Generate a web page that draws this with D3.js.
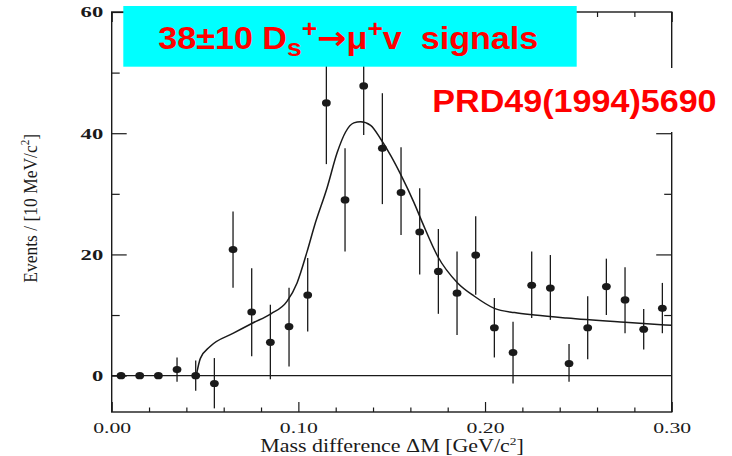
<!DOCTYPE html>
<html>
<head>
<meta charset="utf-8">
<script src="https://cdn.jsdelivr.net/npm/d3@7"></script>
<style>
  html, body { margin: 0; padding: 0; background: #fff; }
  svg { display: block; }
</style>
</head>
<body>
<svg id="chart" width="732" height="456"></svg>
<script>
// ---- data ----
const massBins = [0.005, 0.015, 0.025, 0.035, 0.045, 0.055, 0.065, 0.075, 0.085, 0.095,
                  0.105, 0.115, 0.125, 0.135, 0.145, 0.155, 0.165, 0.175, 0.185, 0.195,
                  0.205, 0.215, 0.225, 0.235, 0.245, 0.255, 0.265, 0.275, 0.285, 0.295];
const counts   = [0, 0, 0, 1.0, 0, -1.3, 20.8, 10.5, 5.5, 8.1,
                  13.3, 45.0, 29.0, 47.8, 37.5, 30.2, 23.7, 17.2, 13.6, 19.9,
                  7.9, 3.8, 14.9, 14.45, 2.0, 7.9, 14.7, 12.5, 7.65, 11.1];
const errLow   = [0, 0, 0, -1.0, -2.5, -5.4, 14.5, 3.2, -0.6, 1.5,
                  7.3, 34.9, 20.5, 39.7, 28.3, 23.2, 16.7, 10.2, 6.7, 13.35,
                  3.0, -1.3, 9.5, 9.2, -1.0, 2.7, 10.0, 7.0, 4.3, 7.0];
const errHigh  = [0, 0, 0, 3.0, 2.5, 2.9, 27.1, 17.7, 11.7, 14.5,
                  19.4, 55.1, 37.5, 55.9, 46.6, 37.7, 30.9, 24.2, 20.5, 26.3,
                  12.8, 8.9, 20.5, 19.9, 5.2, 13.1, 19.3, 17.9, 11.0, 15.3];

const fitX = [0.0453, 0.0475, 0.0527, 0.0652, 0.0753, 0.0853, 0.0939, 0.0993, 0.1047, 0.1086,
              0.1154, 0.1208, 0.1253, 0.1297, 0.1333, 0.1387, 0.1441, 0.1495, 0.1548, 0.1620,
              0.1665, 0.1746, 0.1853, 0.1943, 0.2050, 0.2158, 0.2265, 0.2437, 0.2750, 0.3000];
const fitY = [0, 2.85, 4.8, 7.0, 8.65, 10.2, 12.25, 15.3, 20.5, 24.7,
              31.0, 36.8, 40.2, 41.7, 41.9, 41.3, 39.05, 36.3, 33.2, 28.5,
              25.2, 19.7, 15.3, 13.1, 11.1, 10.4, 10.0, 9.5, 8.8, 8.3];

const xMajorTicks = [0, 0.10, 0.20, 0.30];
const xMinorTicks = [0.02, 0.04, 0.06, 0.08, 0.12, 0.14, 0.16, 0.18, 0.22, 0.24, 0.26, 0.28];
const yMajorTicks = [0, 20, 40, 60];
const yMinorTicks = [10, 30, 50];

const xTitle = "Mass difference \u0394M [GeV/c";
const yTitle = "Events / [10 MeV/c";
const boxTitleParts = ["38\u00b110 D", "s", "+", "\u2192", "\u03bc", "+", "v\u00a0\u00a0signals"];
const refText = "PRD49(1994)5690";

// ---- layout ----
const svg = d3.select("#chart");
const L = 111.7, R = 671.7, T = 12, B = 412;
const x = d3.scaleLinear().domain([0, 0.30]).range([L, R]);
const y = d3.scaleLinear().domain([-6, 60]).range([B, T]);
const ink = "#1a1a1a";

function styleAxis(g) {
  g.select(".domain").remove();
  g.selectAll(".tick line").attr("stroke", ink).attr("stroke-width", 1.2);
}

// bottom axis
svg.append("g").attr("transform", `translate(0,${B})`)
  .call(d3.axisBottom(x).tickValues(xMinorTicks).tickSize(-4.5).tickFormat(""))
  .call(styleAxis);
const xb = svg.append("g").attr("transform", `translate(0,${B})`)
  .call(d3.axisBottom(x).tickValues(xMajorTicks).tickSize(-10).tickPadding(10).tickFormat(d3.format(".2f")))
  .call(styleAxis);
xb.selectAll(".tick text")
  .attr("font-family", "'Liberation Serif', 'Times New Roman', serif")
  .attr("font-size", 15).attr("fill", ink)
  .attr("textLength", 38).attr("lengthAdjust", "spacingAndGlyphs");

// top axis
svg.append("g").attr("transform", `translate(0,${T})`)
  .call(d3.axisTop(x).tickValues(xMinorTicks).tickSize(-5).tickFormat(""))
  .call(styleAxis);
svg.append("g").attr("transform", `translate(0,${T})`)
  .call(d3.axisTop(x).tickValues(xMajorTicks).tickSize(-10).tickFormat(""))
  .call(styleAxis);

// left axis
svg.append("g").attr("transform", `translate(${L},0)`)
  .call(d3.axisLeft(y).tickValues(yMinorTicks).tickSize(-8).tickFormat(""))
  .call(styleAxis);
const yl = svg.append("g").attr("transform", `translate(${L},0)`)
  .call(d3.axisLeft(y).tickValues(yMajorTicks).tickSize(-15).tickPadding(8.5).tickFormat(d3.format("d")))
  .call(styleAxis);
yl.selectAll(".tick text")
  .attr("font-family", "'Liberation Serif', 'Times New Roman', serif")
  .attr("font-weight", "bold")
  .attr("font-size", 15).attr("fill", ink)
  .each(function(d) {
    const n = String(d).length;
    d3.select(this).attr("textLength", 11.3 * n).attr("lengthAdjust", "spacingAndGlyphs");
  });

// right axis
svg.append("g").attr("transform", `translate(${R},0)`)
  .call(d3.axisRight(y).tickValues(yMinorTicks).tickSize(-7.5).tickFormat(""))
  .call(styleAxis);
svg.append("g").attr("transform", `translate(${R},0)`)
  .call(d3.axisRight(y).tickValues(yMajorTicks.filter(v => v > 0 && v < 60)).tickSize(-15.5).tickFormat(""))
  .call(styleAxis);

// frame
svg.append("rect")
  .attr("x", L).attr("y", T).attr("width", R - L).attr("height", B - T)
  .attr("fill", "none").attr("stroke", ink).attr("stroke-width", 1.4);

// zero line
svg.append("line")
  .attr("x1", L).attr("x2", R).attr("y1", y(0)).attr("y2", y(0))
  .attr("stroke", ink).attr("stroke-width", 1.2);

// fit curve
const fitData = fitX.map((v, i) => [v, fitY[i]]);
svg.append("path")
  .datum(fitData)
  .attr("fill", "none").attr("stroke", ink).attr("stroke-width", 1.5)
  .attr("d", d3.line().x(d => x(d[0])).y(d => y(d[1])).curve(d3.curveMonotoneX));

// data points
const pts = massBins.map((m, i) => ({ m, v: counts[i], lo: errLow[i], hi: errHigh[i] }));
svg.append("g").selectAll("line")
  .data(pts.filter(d => d.hi !== d.lo))
  .join("line")
  .attr("x1", d => x(d.m)).attr("x2", d => x(d.m))
  .attr("y1", d => y(d.lo)).attr("y2", d => y(d.hi))
  .attr("stroke", ink).attr("stroke-width", 1.3);
svg.append("g").selectAll("ellipse")
  .data(pts)
  .join("ellipse")
  .attr("cx", d => x(d.m)).attr("cy", d => y(d.v))
  .attr("rx", 4.4).attr("ry", 3.6)
  .attr("fill", ink);

// axis titles
const xt = svg.append("text")
  .attr("transform", "translate(392,452) scale(1.22,1)")
  .attr("text-anchor", "middle")
  .attr("font-family", "'Liberation Serif', 'Times New Roman', serif")
  .attr("font-size", 18).attr("fill", ink);
xt.append("tspan").text(xTitle);
xt.append("tspan").attr("font-size", 11).attr("dy", -7).text("2");
xt.append("tspan").attr("dy", 7).text("]");

const yt = svg.append("text")
  .attr("transform", "translate(36.7,208.3) scale(1.1,1) rotate(-90)")
  .attr("text-anchor", "middle")
  .attr("font-family", "'Liberation Serif', 'Times New Roman', serif")
  .attr("font-size", 17.5).attr("fill", ink);
yt.append("tspan").text(yTitle);
yt.append("tspan").attr("font-size", 11).attr("dy", -7).text("2");
yt.append("tspan").attr("dy", 7).text("]");

// cyan title box
svg.append("rect")
  .attr("x", 123.3).attr("y", 6).attr("width", 453.4).attr("height", 60.7)
  .attr("fill", "#00ffff");
const bt = svg.append("text")
  .attr("transform", "translate(158.3,49.3) scale(1.1,1)")
  .attr("font-family", "'Liberation Sans', Arial, sans-serif")
  .attr("font-weight", "bold").attr("font-size", 31).attr("fill", "#ff0000");
bt.append("tspan").text(boxTitleParts[0]);
bt.append("tspan").attr("font-size", 24).attr("dy", 7).text(boxTitleParts[1]);
bt.append("tspan").attr("font-size", 24).attr("dy", -19).text(boxTitleParts[2]);
bt.append("tspan").attr("dy", 12).attr("font-family", "'DejaVu Sans', sans-serif").attr("font-size", 32).text(boxTitleParts[3]);
bt.append("tspan").text(boxTitleParts[4]);
bt.append("tspan").attr("font-size", 24).attr("dy", -12).text(boxTitleParts[5]);
bt.append("tspan").attr("dy", 12).text(boxTitleParts[6]);

// reference label with white backing
svg.append("rect")
  .attr("x", 420).attr("y", 68).attr("width", 312).attr("height", 64)
  .attr("fill", "#fff");
svg.append("text")
  .attr("transform", "translate(432.3,112.3) scale(1.1,1)")
  .attr("font-family", "'Liberation Sans', Arial, sans-serif")
  .attr("font-weight", "bold").attr("font-size", 31).attr("fill", "#ff0000")
  .text(refText);
</script>
</body>
</html>
